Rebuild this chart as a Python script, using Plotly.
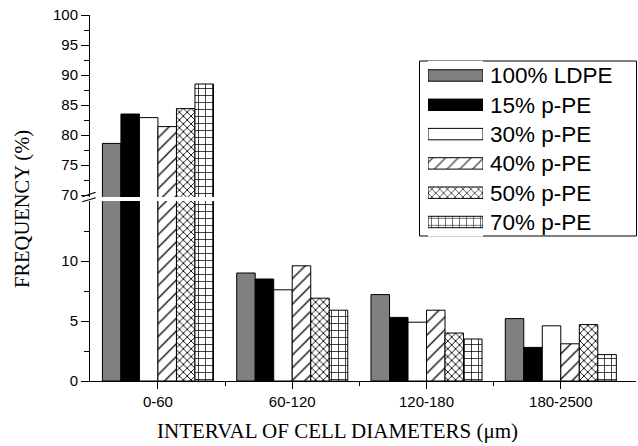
import plotly.graph_objects as go

categories = ["0-60", "60-120", "120-180", "180-2500"]
series_names = ["100% LDPE", "15% p-PE", "30% p-PE", "40% p-PE", "50% p-PE", "70% p-PE"]
ldpe_100 = [78.6, 9.0, 7.2, 5.2]
ppe_15 = [83.5, 8.5, 5.3, 2.8]
ppe_30 = [82.9, 7.6, 4.9, 4.6]
ppe_40 = [81.4, 9.6, 5.9, 3.1]
ppe_50 = [84.4, 6.9, 4.0, 4.7]
ppe_70 = [88.5, 5.9, 3.5, 2.2]
series_values = [ldpe_100, ppe_15, ppe_30, ppe_40, ppe_50, ppe_70]

lower_ticks = [0, 5, 10]
upper_ticks = [70, 75, 80, 85, 90, 95, 100]

colors = ["#808080", "#000000", "#ffffff", "#ffffff", "#ffffff", "#ffffff"]
shapes_pat = ["", "", "", "/", "x", "+"]
sizes = [8, 8, 8, 9, 5.5, 7]
solid = [0.3, 0.3, 0.3, 0.14, 0.3, 0.2]

xpos = list(range(len(categories)))

fig = go.Figure()
for axis in ["y", "y2"]:
    for name, vals, c, sh, sz, so in zip(series_names, series_values, colors, shapes_pat, sizes, solid):
        marker = dict(color=c, line=dict(color="black", width=1))
        if sh:
            marker["pattern"] = dict(shape=sh, fgcolor="black", bgcolor="white", size=sz,
                                     solidity=so, fgopacity=1)
        fig.add_trace(go.Bar(x=xpos, y=vals, name=name, marker=marker, yaxis=axis,
                             xaxis="x", showlegend=False, hoverinfo="skip"))

# custom legend using a helper axis
fig.add_trace(go.Bar(
    y=series_names, x=[1] * len(series_names), orientation="h", width=0.39,
    xaxis="x3", yaxis="y3", showlegend=False, hoverinfo="skip",
    marker=dict(color=colors, line=dict(color="black", width=1),
                pattern=dict(shape=shapes_pat, fgcolor="black", bgcolor="white",
                             size=sizes, solidity=solid, fgopacity=1)),
))

W, H = 638, 446
L, R, T, B = 90, 2, 15, 65
pw, ph = W - L - R, H - T - B

def px(x):
    return (x - L) / pw

def py(y):
    return (H - B - y) / ph

tickfont = dict(family="Liberation Sans, Arial, sans-serif", size=15, color="black")

fig.update_layout(
    width=W, height=H,
    margin=dict(l=L, r=R, t=T, b=B),
    paper_bgcolor="white", plot_bgcolor="white",
    barmode="group", bargap=0.173, bargroupgap=0,
    xaxis=dict(range=[-0.506, 3.56], tickvals=xpos, ticktext=categories,
               showline=True, linecolor="black", linewidth=1, ticks="outside",
               ticklen=7, tickcolor="black", showgrid=False, zeroline=False,
               tickfont=tickfont, anchor="y",
               minor=dict(tickvals=[0.5, 1.5, 2.5], ticks="outside", ticklen=4,
                          tickcolor="black", showgrid=False)),
    yaxis=dict(domain=[0, (H - B - 201) / ph], range=[0, 15], tickvals=lower_ticks,
               showline=True, linecolor="black", linewidth=1, ticks="outside",
               ticklen=8, tickcolor="black", showgrid=False, zeroline=False,
               tickfont=tickfont, anchor="x",
               minor=dict(tickvals=[2.5, 7.5, 12.5], ticks="outside", ticklen=5,
                          tickcolor="black", showgrid=False)),
    yaxis2=dict(domain=[(H - B - 197) / ph, 1], range=[69.67, 100], tickvals=upper_ticks,
                showline=True, linecolor="black", linewidth=1, ticks="outside",
                ticklen=8, tickcolor="black", showgrid=False, zeroline=False,
                tickfont=tickfont, anchor="x",
                minor=dict(tickvals=[72.5, 77.5, 82.5, 87.5, 92.5, 97.5], ticks="outside",
                           ticklen=5, tickcolor="black", showgrid=False)),
    xaxis3=dict(domain=[px(428), px(483)], range=[0, 1], visible=False, anchor="y3",
                fixedrange=True),
    yaxis3=dict(domain=[py(236.65), py(60.85)], anchor="x3", side="right",
                autorange="reversed", showline=False, showgrid=False, zeroline=False,
                ticks="", ticklabelstandoff=6, fixedrange=True,
                tickfont=dict(family="Liberation Sans, Arial, sans-serif", size=22.5,
                              color="black")),
    showlegend=False,
    shapes=[
        dict(type="rect", xref="paper", yref="paper", x0=px(419.5), x1=px(636.5),
             y0=py(236), y1=py(61), line=dict(color="black", width=1), layer="below"),
        dict(type="line", xref="paper", yref="paper", x0=px(82.3), y0=py(196.7),
             x1=px(95.7), y1=py(192.3), line=dict(color="black", width=1.2)),
        dict(type="line", xref="paper", yref="paper", x0=px(82.3), y0=py(201.7),
             x1=px(95.7), y1=py(197.7), line=dict(color="black", width=1.2)),
    ],
    annotations=[
        dict(text="INTERVAL OF CELL DIAMETERS (\u03bcm)", xref="paper", yref="paper",
             x=px(337), y=py(431), xanchor="center", yanchor="middle", showarrow=False,
             font=dict(family="Liberation Serif, Times New Roman, serif", size=21,
                       color="black")),
        dict(text="FREQUENCY (%)", xref="paper", yref="paper", textangle=-90,
             x=px(23), y=py(209), xanchor="center", yanchor="middle", showarrow=False,
             font=dict(family="Liberation Serif, Times New Roman, serif", size=20.5,
                       color="black")),
    ],
)

fig.write_html("out.html", config={"displayModeBar": False, "staticPlot": True},
               post_script="document.body.style.margin='0';document.body.style.padding='0';")
